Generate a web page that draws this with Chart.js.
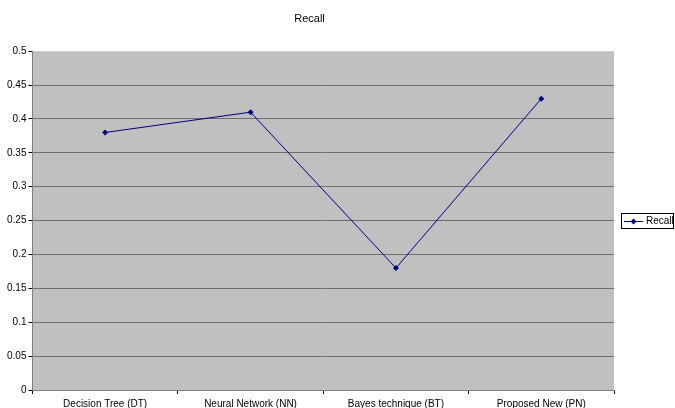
<!DOCTYPE html>
<html>
<head>
<meta charset="utf-8">
<script src="https://cdn.jsdelivr.net/npm/chart.js@4"></script>
<style>
  html, body { margin: 0; padding: 0; background: #fff; }
  #wrap { width: 675px; height: 408px; }
</style>
</head>
<body>
<div id="wrap"><canvas id="myChart" width="675" height="408"></canvas></div>
<script>
var methods = ['Decision Tree (DT)', 'Neural Network (NN)', 'Bayes technique (BT)', 'Proposed New (PN)']
var recall = [0.38, 0.41, 0.18, 0.43]
var yTicks = [0, 0.05, 0.1, 0.15, 0.2, 0.25, 0.3, 0.35, 0.4, 0.45, 0.5]

var navy = '#000080'

// grey plot background, like the old spreadsheet default
var plotBg = {
  id: 'plotBg',
  beforeDraw: function (chart) {
    var a = chart.chartArea
    var ctx = chart.ctx
    ctx.save()
    ctx.fillStyle = '#c0c0c0'
    ctx.fillRect(a.left, a.top, a.right - a.left, a.bottom - a.top)
    ctx.restore()
  }
}

// boxed legend on the right with line + diamond sample
var boxLegend = {
  id: 'boxLegend',
  afterDraw: function (chart) {
    var ctx = chart.ctx
    var a = chart.chartArea
    var x = a.right + 7
    var y = Math.round((a.top + a.bottom) / 2) + 0.5
    ctx.save()
    ctx.strokeStyle = '#000'
    ctx.lineWidth = 1
    ctx.strokeRect(x + 0.5, y - 8, 52, 15)
    ctx.strokeStyle = navy
    ctx.beginPath()
    ctx.moveTo(x + 3, y)
    ctx.lineTo(x + 22, y)
    ctx.stroke()
    ctx.fillStyle = navy
    ctx.beginPath()
    ctx.moveTo(x + 12.5, y - 3)
    ctx.lineTo(x + 15.5, y)
    ctx.lineTo(x + 12.5, y + 3)
    ctx.lineTo(x + 9.5, y)
    ctx.closePath()
    ctx.fill()
    ctx.fillStyle = '#000'
    ctx.font = '10px "Liberation Sans", Arial, sans-serif'
    ctx.textBaseline = 'middle'
    ctx.fillText(chart.data.datasets[0].label, x + 25, y)
    ctx.restore()
  }
}

var ctx = document.getElementById('myChart')
var recallChart = new Chart(ctx, {
  type: 'line',
  data: {
    labels: methods,
    datasets: [
      {
        label: 'Recall',
        data: recall,
        borderColor: navy,
        backgroundColor: navy,
        borderWidth: 1,
        pointStyle: 'rectRot',
        pointRadius: 3,
        pointBorderWidth: 0,
        tension: 0
      }
    ]
  },
  options: {
    responsive: false,
    animation: false,
    layout: { padding: { left: 5, right: 61, top: 0, bottom: 0 } },
    plugins: {
      legend: { display: false },
      tooltip: { enabled: false },
      title: {
        display: true,
        text: 'Recall',
        color: '#000',
        font: { family: '"Liberation Sans", Arial, sans-serif', size: 11, weight: 'normal' },
        padding: { top: 12, bottom: 26 }
      }
    },
    scales: {
      x: {
        offset: true,
        border: { color: '#808080', width: 1 },
        grid: {
          offset: true,
          drawOnChartArea: false,
          drawTicks: true,
          tickLength: 4,
          color: '#000'
        },
        ticks: {
          color: '#000',
          padding: 5,
          maxRotation: 0,
          font: { family: '"Liberation Sans", Arial, sans-serif', size: 10, lineHeight: 1 }
        },
        // labels sit low and get clipped by the canvas edge
        afterFit: function (axis) { axis.height = 18 }
      },
      y: {
        min: 0,
        max: 0.5,
        border: { color: '#808080', width: 1 },
        afterBuildTicks: function (axis) {
          axis.ticks = yTicks.map(function (v) { return { value: v } })
        },
        grid: {
          color: function (c) {
            return c.tick && c.tick.value >= 0.5 ? 'rgba(0,0,0,0)' : '#6e6e6e'
          },
          tickColor: '#000',
          tickLength: 4,
          lineWidth: 1
        },
        ticks: {
          color: '#000',
          padding: 2,
          font: { family: '"Liberation Sans", Arial, sans-serif', size: 10 },
          callback: function (v) { return String(Number(v.toFixed(2))) }
        }
      }
    }
  },
  plugins: [plotBg, boxLegend]
})
</script>
</body>
</html>
